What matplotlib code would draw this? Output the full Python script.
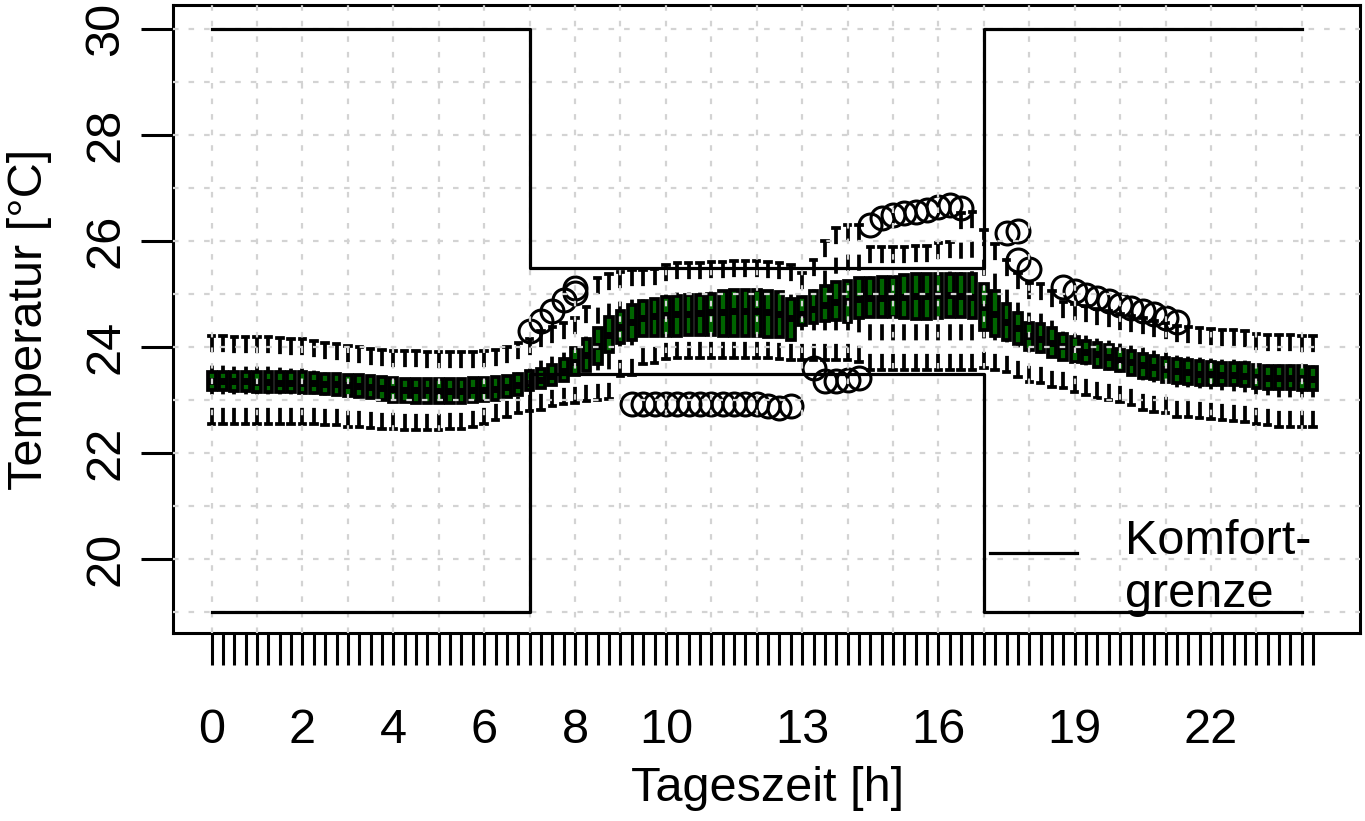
import numpy as np
import matplotlib.pyplot as plt
from matplotlib.ticker import FixedLocator

plt.rcParams['font.family'] = ['Liberation Sans', 'DejaVu Sans']

# quarter-hour boxes, 0:00 ... 24:15
hours = np.arange(98) * 0.25

# box statistics per quarter hour (4 values per row = 1 hour)
med = [23.36, 23.36, 23.35, 23.35,  23.34, 23.34, 23.33, 23.33,
       23.32, 23.32, 23.31, 23.30,  23.28, 23.26, 23.24, 23.22,
       23.20, 23.19, 23.18, 23.18,  23.17, 23.17, 23.17, 23.18,
       23.19, 23.21, 23.24, 23.28,  23.33, 23.38, 23.45, 23.55,
       23.72, 23.85, 24.02, 24.22,  24.38, 24.48, 24.55, 24.58,
       24.60, 24.62, 24.63, 24.64,  24.66, 24.67, 24.68, 24.68,
       24.68, 24.66, 24.62, 24.55,  24.62, 24.72, 24.80, 24.85,
       24.87, 24.90, 24.92, 24.93,  24.94, 24.95, 24.96, 24.97,
       24.98, 24.98, 24.97, 24.95,  24.76, 24.62, 24.48, 24.35,
       24.20, 24.15, 24.08, 24.01,  23.96, 23.91, 23.86, 23.81,
       23.76, 23.71, 23.66, 23.62,  23.58, 23.55, 23.52, 23.50,
       23.49, 23.48, 23.47, 23.46,  23.43, 23.42, 23.41, 23.41,
       23.41, 23.40]
q3 = [23.52, 23.52, 23.52, 23.52,  23.52, 23.52, 23.52, 23.52,
      23.52, 23.51, 23.50, 23.50,  23.48, 23.47, 23.45, 23.43,
      23.42, 23.40, 23.40, 23.40,  23.40, 23.40, 23.40, 23.41,
      23.42, 23.44, 23.46, 23.50,  23.54, 23.58, 23.66, 23.78,
      23.98, 24.15, 24.36, 24.56,  24.68, 24.80, 24.87, 24.90,
      24.95, 24.96, 24.98, 24.99,  25.00, 25.06, 25.08, 25.08,
      25.08, 25.05, 25.04, 24.90,  24.95, 25.05, 25.15, 25.22,
      25.25, 25.30, 25.31, 25.32,  25.33, 25.35, 25.37, 25.38,
      25.38, 25.38, 25.38, 25.37,  25.18, 25.05, 24.82, 24.65,
      24.46, 24.43, 24.35, 24.25,  24.18, 24.12, 24.07, 24.03,
      23.97, 23.93, 23.87, 23.83,  23.79, 23.77, 23.75, 23.73,
      23.71, 23.70, 23.70, 23.69,  23.66, 23.65, 23.65, 23.64,
      23.64, 23.63]
q1 = [23.18, 23.18, 23.17, 23.17,  23.16, 23.16, 23.15, 23.15,
      23.14, 23.13, 23.12, 23.10,  23.08, 23.06, 23.03, 23.00,
      22.97, 22.96, 22.95, 22.95,  22.94, 22.94, 22.95, 22.96,
      22.98, 23.00, 23.05, 23.10,  23.18, 23.22, 23.28, 23.35,
      23.48, 23.55, 23.68, 23.90,  24.08, 24.14, 24.20, 24.20,
      24.20, 24.21, 24.22, 24.23,  24.23, 24.20, 24.20, 24.20,
      24.20, 24.19, 24.18, 24.14,  24.42, 24.45, 24.50, 24.51,
      24.48, 24.55, 24.57, 24.57,  24.57, 24.55, 24.53, 24.52,
      24.55, 24.57, 24.57, 24.55,  24.33, 24.20, 24.13, 24.05,
      23.95, 23.90, 23.82, 23.76,  23.72, 23.70, 23.63, 23.58,
      23.54, 23.48, 23.42, 23.40,  23.34, 23.32, 23.30, 23.29,
      23.29, 23.28, 23.28, 23.27,  23.22, 23.21, 23.20, 23.20,
      23.19, 23.19]
whis_hi = [24.20, 24.20, 24.19, 24.19,  24.18, 24.18, 24.17, 24.16,
           24.15, 24.12, 24.08, 24.05,  24.02, 24.00, 23.97, 23.95,
           23.93, 23.92, 23.92, 23.91,  23.90, 23.90, 23.90, 23.91,
           23.93, 23.95, 24.00, 24.08,  24.15, 24.30, 24.38, 24.45,
           24.55, 24.75, 25.30, 25.38,  25.42, 25.45, 25.45, 25.47,
           25.55, 25.58, 25.58, 25.58,  25.60, 25.60, 25.62, 25.62,
           25.62, 25.60, 25.58, 25.55,  25.40, 25.64, 26.00, 26.25,
           26.30, 26.30, 25.88, 25.88,  25.88, 25.88, 25.90, 25.90,
           25.97, 25.98, 26.52, 26.55,  26.20, 25.95, 25.65, 25.40,
           25.20, 25.18, 25.05, 24.85,  24.82, 24.78, 24.72, 24.68,
           24.62, 24.58, 24.55, 24.50,  24.45, 24.40, 24.38, 24.36,
           24.34, 24.33, 24.32, 24.30,  24.25, 24.23, 24.22, 24.22,
           24.21, 24.20]
whis_lo = [22.55, 22.55, 22.55, 22.55,  22.55, 22.55, 22.55, 22.55,
           22.55, 22.54, 22.53, 22.52,  22.50, 22.50, 22.48, 22.46,
           22.45, 22.44, 22.44, 22.44,  22.44, 22.45, 22.46, 22.50,
           22.55, 22.62, 22.68, 22.75,  22.80, 22.82, 22.88, 22.92,
           22.95, 22.98, 23.00, 23.02,  23.45, 23.47, 23.68, 23.70,
           23.78, 23.80, 23.80, 23.80,  23.80, 23.80, 23.80, 23.80,
           23.80, 23.80, 23.78, 23.75,  23.75, 23.75, 23.75, 23.75,
           23.75, 23.72, 23.57, 23.56,  23.56, 23.56, 23.56, 23.56,
           23.56, 23.56, 23.56, 23.56,  23.60, 23.56, 23.53, 23.43,
           23.34, 23.32, 23.25, 23.23,  23.15, 23.10, 23.04, 23.00,
           22.96, 22.90, 22.82, 22.78,  22.75, 22.68, 22.67, 22.66,
           22.64, 22.62, 22.60, 22.58,  22.55, 22.52, 22.50, 22.50,
           22.50, 22.50]

# outliers (hour of box, temperature)
out_hour = [7.0, 7.25, 7.5, 7.75, 8.0, 8.0,
            9.25, 9.5, 9.75, 10.0, 10.25, 10.5, 10.75, 11.0, 11.25, 11.5,
            11.75, 12.0, 12.25, 12.5, 12.75,
            13.25, 13.5, 13.75, 14.0, 14.25,
            14.5, 14.75, 15.0, 15.25, 15.5, 15.75, 16.0, 16.25, 16.5,
            17.5, 17.75, 17.75, 18.0,
            18.75, 19.0, 19.25, 19.5, 19.75, 20.0, 20.25, 20.5, 20.75, 21.0, 21.25]
out_temp = [24.30, 24.50, 24.68, 24.88, 25.02, 25.12,
            22.92, 22.92, 22.92, 22.92, 22.92, 22.92, 22.92, 22.92, 22.92, 22.92,
            22.92, 22.92, 22.88, 22.85, 22.88,
            23.60, 23.35, 23.35, 23.37, 23.42,
            26.30, 26.43, 26.49, 26.53, 26.55, 26.58, 26.64, 26.68, 26.62,
            26.15, 26.18, 25.65, 25.47,
            25.13, 25.05, 24.98, 24.92, 24.86, 24.80, 24.74, 24.68, 24.62, 24.55, 24.47]

# comfort limits (step function)
comfort_hour = [0, 7, 17, 24]
comfort_upper = [30, 25.5, 30, 30]
comfort_lower = [19, 23.5, 19, 19]

label_hours = [0, 2, 4, 6, 8, 10, 13, 16, 19, 22]

stats = []
for i, h in enumerate(hours):
    fl = [t for oh, t in zip(out_hour, out_temp) if abs(oh - h) < 1e-6]
    stats.append(dict(med=med[i], q1=q1[i], q3=q3[i],
                      whislo=whis_lo[i], whishi=whis_hi[i], fliers=fl))

fig, ax = plt.subplots(figsize=(13.65, 8.21), dpi=100)
fig.subplots_adjust(left=0.1267, right=0.9963, bottom=0.229, top=0.9939)

bp = ax.bxp(stats, positions=hours, widths=0.17, capwidths=0.12,
            patch_artist=True, manage_ticks=False,
            boxprops=dict(facecolor='#006400', edgecolor='black', linewidth=2.7),
            medianprops=dict(color='black', linewidth=5),
            whiskerprops=dict(color='black', linewidth=2.7, linestyle=(0, (4.3, 3.6))),
            capprops=dict(color='black', linewidth=2.7),
            flierprops=dict(marker='o', markerfacecolor='none', markeredgecolor='black',
                            markersize=16.5, markeredgewidth=2.2))
# R draws whiskers from the whisker end towards the box
for w in bp['whiskers']:
    x, y = w.get_data()
    w.set_data(x[::-1], y[::-1])

# comfort limits drawn above the grid
ax.step(comfort_hour, comfort_upper, where='post', color='black', lw=2.3, zorder=3)
ax.step(comfort_hour, comfort_lower, where='post', color='black', lw=2.3, zorder=3)

ax.set_xlim(-0.852, 25.28)
ax.set_ylim(18.604, 30.453)

ax.set_xticks(hours)
ax.set_xticklabels([str(int(h)) if (h in label_hours) else '' for h in hours])
ax.set_yticks([20, 22, 24, 26, 28, 30])
ax.tick_params(axis='both', which='major', length=23, width=2.2, labelsize=35, color='black')
ax.tick_params(axis='x', pad=31)
ax.tick_params(axis='y', pad=9, labelrotation=90)
for lab in ax.get_yticklabels():
    lab.set_va('center')

# dotted light grey grid on top of the boxes
ax.xaxis.remove_overlapping_locs = False
ax.yaxis.remove_overlapping_locs = False
ax.xaxis.set_minor_locator(FixedLocator(np.arange(0, 25)))
ax.yaxis.set_minor_locator(FixedLocator(np.arange(19, 31)))
ax.tick_params(which='minor', length=0)
ax.set_axisbelow(False)
ax.grid(which='minor', color='#D3D3D3', linewidth=1.6, linestyle=(0, (2.5, 4.5)))
ax.grid(which='major', visible=False)

for s in ax.spines.values():
    s.set_linewidth(2.2)

ax.set_xlabel('Tageszeit [h]', fontsize=35)
ax.set_ylabel('Temperatur [°C]', fontsize=35)
ax.xaxis.set_label_coords(0.501, -0.212)
ax.yaxis.set_label_coords(-0.102, 0.5)

# legend for the comfort limits
ax.plot([0.688, 0.762], [0.1274, 0.1274], transform=ax.transAxes, color='black', lw=2.3, zorder=3)
ax.text(0.802, 0.1815, 'Komfort-\ngrenze', transform=ax.transAxes, fontsize=35,
        va='top', ha='left', linespacing=1.22)

fig.savefig('out.png', dpi=100)
